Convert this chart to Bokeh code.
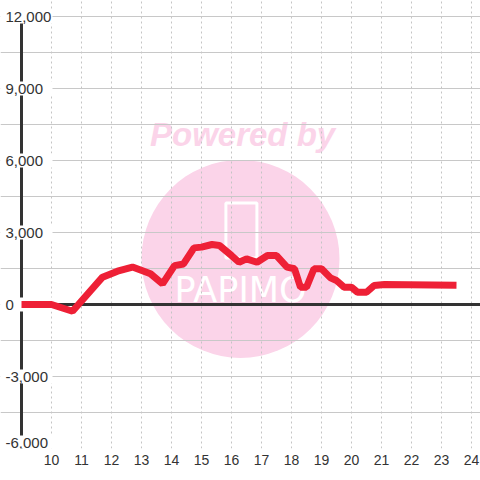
from bokeh.plotting import figure
from bokeh.models import FixedTicker, Range1d
from bokeh.core.properties import value
from bokeh.embed import file_html
from bokeh.resources import INLINE

# ---- data ----
hours = [9.0, 10.0, 10.7, 11.7, 12.2, 12.7, 13.3, 13.7, 14.1, 14.4, 14.75, 15.0,
         15.35, 15.6, 16.0, 16.25, 16.5, 16.85, 17.2, 17.5, 17.85, 18.1, 18.3,
         18.5, 18.75, 19.0, 19.3, 19.5, 19.75, 20.0, 20.2, 20.5, 20.75, 21.1, 23.5]
values = [0, 0, -280, 1140, 1390, 1560, 1280, 860, 1620, 1690, 2360, 2390,
          2500, 2460, 2040, 1760, 1900, 1760, 2040, 2040, 1560, 1490, 720,
          720, 1490, 1490, 1110, 1000, 720, 720, 510, 510, 790, 830, 800]

x_ticks = list(range(10, 25))
y_ticks = [12000, 9000, 6000, 3000, 0, -3000, -6000]
y_tick_labels = ["12,000", "9,000", "6,000", "3,000", "0", "-3,000", "-6,000"]
y_grid_ticks = list(range(-6000, 12001, 1500))

# ---- layout ----
px_per_hour = 30.0
x_start = 10 - 51 / px_per_hour
x_end = 10 + 429 / px_per_hour
y_start, y_end = -6000, 12000 + 16 * 3000 / 72

p = figure(frame_width=480, frame_height=448, output_backend="svg",
           toolbar_location=None, x_range=Range1d(x_start, x_end),
           y_range=Range1d(y_start, y_end), y_axis_location=None,
           min_border=0, min_border_bottom=32, background_fill_color="white",
           border_fill_color="white")
p.outline_line_color = None

# grids
p.xgrid.ticker = FixedTicker(ticks=x_ticks)
p.xgrid.grid_line_color = "#c4c4c4"
p.xgrid.grid_line_dash = "2 3"
p.xgrid.grid_line_width = 1
p.ygrid.ticker = FixedTicker(ticks=y_grid_ticks)
p.ygrid.grid_line_color = "#c8c8c8"
p.ygrid.grid_line_width = 1

# x axis
ax = p.xaxis[0]
ax.ticker = FixedTicker(ticks=x_ticks)
ax.axis_line_color = None
ax.major_tick_line_color = None
ax.minor_tick_line_color = None
ax.major_tick_out = 0
ax.major_tick_in = 0
ax.major_label_standoff = 6
ax.major_label_text_font = "Liberation Sans"
ax.major_label_text_font_size = "14px"
ax.major_label_text_color = "#333333"

# watermark (under the grid)
wm = "#fbd4e9"
p.scatter(x=[16.3], y=[1900], size=198, marker="circle", fill_color=wm,
          line_color=None, level="image")
p.text(x=[16.37], y=[7080], text=["Powered by"], text_align="center",
       text_baseline="middle", text_font=value("Liberation Sans"),
       text_font_style="bold italic", text_font_size=value("33px"),
       text_color=wm, level="image")
p.rect(x=[16.33], y=[3080], width=31, height=55, width_units="screen",
       height_units="screen", fill_color=None, line_color="white",
       line_width=3, level="image")
p.text(x=[16.3], y=[600], text=["PAPIMO"], text_align="center",
       text_baseline="middle", text_font=value("DejaVu Sans"),
       text_font_size=value("35px"), text_color="white", level="image")

# y axis line and zero line
p.segment(x0=[9.0], y0=[-6000], x1=[9.0], y1=[12000], line_color="#333333",
          line_width=3)
p.segment(x0=[9.0], y0=[0], x1=[x_end + 1], y1=[0], line_color="#333333",
          line_width=3)

# y tick labels with white boxes
label_y = [t if t > y_start else t + 6 * 3000 / 72 for t in y_ticks]
box_right = 10 + 1 / px_per_hour
p.rect(x=[(x_start + box_right) / 2] * len(label_y), y=label_y,
       width=box_right - x_start, height=14, height_units="screen",
       fill_color="white", line_color=None)
p.text(x=[x_start] * len(label_y), y=label_y, text=y_tick_labels,
       x_offset=5, text_align="left", text_baseline="middle",
       text_font=value("Liberation Sans"), text_font_size=value("15px"),
       text_color="#333333")

# series
p.line(hours, values, line_color="#ee2036", line_width=7)

open("out.html", "w").write(file_html(p, INLINE))
